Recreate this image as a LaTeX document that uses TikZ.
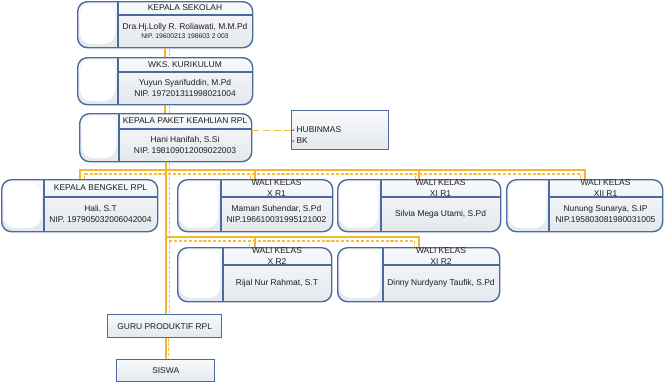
\documentclass[tikz,border=0pt]{standalone}
\usepackage{fontspec}
\setmainfont{Liberation Sans}
\usepackage{tikz}
\usetikzlibrary{positioning,calc}
\definecolor{orgblue}{HTML}{4A6C9C}
\definecolor{orgline}{HTML}{F6B52C}
\definecolor{orgdash}{HTML}{F7BE45}
\definecolor{orgtext}{HTML}{1E1E1E}
\definecolor{orgtop}{HTML}{F8F9FB}
\definecolor{orgbot}{HTML}{E4E8EC}
\tikzset{
	card/.style={draw=orgblue, line width=1pt, rounded corners=7pt, top color=orgtop, bottom color=orgbot, inner sep=0pt},
	plainbox/.style={draw=orgblue, line width=1pt, top color=orgtop, bottom color=orgbot, inner sep=0pt},
	cardline/.style={draw=orgblue, line width=0.8pt},
	headtext/.style={font=\fontsize{6}{7.8}\selectfont, text=orgtext, align=center, inner sep=0pt},
	bodytext/.style={font=\fontsize{6}{7.8}\selectfont, text=orgtext, align=center, inner sep=0pt},
	link/.style={draw=orgline, line width=1.4pt},
	linkdash/.style={draw=orgdash, line width=0.8pt, dash pattern=on 2.2pt off 1.3pt},
	hubdash/.style={draw=orgdash, line width=1pt, dash pattern=on 5pt off 2.5pt}
}
% name, left, top, right, bottom, divider x, divider y, title, body
\newcommand{\orgcard}[9]{
	\node[card, anchor=north west, minimum width={(#4-#2)*0.025cm}, minimum height={(#5-#3)*0.025cm}] (#1) at (#2,#3) {};
	\fill[white, rounded corners=8pt] ({#2+3},{#3+3}) rectangle ({#6-3},{#5-3});
	\draw[cardline] (#6,#3) -- (#6,#5) (#6,#7) -- (#4,#7);
	\node[headtext] (#1-head) at ({(#6+#4)/2},{(#3+#7)/2}) {#8};
	\node[bodytext] (#1-body) at ({(#6+#4)/2},{(#7+#5)/2}) {#9};
}
\begin{document}
\begin{tikzpicture}[x=0.025cm, y=-0.025cm]
	\useasboundingbox (0,0) rectangle (664,382);
	\fill[white] (0,0) rectangle (664,382);

	\orgcard{ks}{77}{1}{252}{47}{118}{15}{KEPALA SEKOLAH}{Dra.Hj.Lolly R. Roliawati, M.M.Pd\\[-1pt]{\fontsize{4.8}{6}\selectfont NIP. 19600213 198603 2 003}}
	\orgcard{wk}{77}{57}{252}{104}{118}{72}{WKS. KURIKULUM}{Yuyun Syarifuddin, M.Pd\\NIP. 197201311998021004}
	\orgcard{kp}{79}{113}{251}{161}{119}{129}{KEPALA PAKET KEAHLIAN RPL}{Hani Hanifah, S.Si\\NIP. 198109012009022003}

	\node[plainbox, anchor=north west, minimum width=97*0.025cm, minimum height=39*0.025cm] (hub) at (291,110) {};
	\node[bodytext, anchor=west, align=left] (hub-list) at (292,135) {{\fontsize{4}{5}\selectfont\textbullet} HUBINMAS\\{\fontsize{4}{5}\selectfont\textbullet} BK};

	\orgcard{kb}{1}{179}{157}{231}{44}{197}{KEPALA BENGKEL RPL}{Hali, S.T\\NIP. 197905032006042004}
	\orgcard{xa}{177}{179}{332}{231}{221}{197}{WALI KELAS\\X R1}{Maman Suhendar, S.Pd\\NIP.196610031995121002}
	\orgcard{xia}{337}{179}{500}{231}{381}{197}{WALI KELAS\\XI R1}{Silvia Mega Utami, S.Pd}
	\orgcard{xiia}{506}{179}{662}{231}{549}{197}{WALI KELAS\\XII R1}{Nunung Sunarya, S.IP\\NIP.195803081980031005}

	\orgcard{xb}{177}{247}{331}{301}{223}{265}{WALI KELAS\\X R2}{Rijal Nur Rahmat, S.T}
	\orgcard{xib}{337}{247}{499}{301}{383}{265}{WALI KELAS\\XI R2}{Dinny Nurdyany Taufik, S.Pd}

	\node[plainbox, anchor=north west, minimum width=114*0.025cm, minimum height=23*0.025cm, font=\fontsize{6}{7.8}\selectfont, text=orgtext] (guru) at (107,314) {GURU PRODUKTIF RPL};
	\node[plainbox, anchor=north west, minimum width=98*0.025cm, minimum height=22*0.025cm, font=\fontsize{6}{7.8}\selectfont, text=orgtext] (siswa) at (116,359) {SISWA};

	\coordinate (busa) at (165,170);
	\coordinate (busb) at (165,237);
	\coordinate (dbusa) at (169,174);
	\coordinate (dbusb) at (169,241);

	\draw[linkdash] ([xshift=0.1cm]ks.south) -- ([xshift=0.1cm]ks.south |- wk.north);
	\draw[linkdash] ([xshift=0.1cm]wk.south) -- ([xshift=0.1cm]wk.south |- kp.north);
	\draw[linkdash] ([xshift=0.1cm]kp.south) -- ([xshift=0.1cm]kp.south |- guru.north);
	\draw[linkdash] ([xshift=0.1cm]guru.south) -- ([xshift=0.1cm]guru.south |- siswa.north);
	\draw[linkdash] ([xshift=0.125cm]kb.north) |- (dbusa) -| ([xshift=-0.1cm]xiia.north);
	\draw[linkdash] ([xshift=-0.125cm]xa.north) -- ([xshift=-0.125cm]xa.north |- dbusa);
	\draw[linkdash] ([xshift=-0.09cm]xia.north) -- ([xshift=-0.09cm]xia.north |- dbusa);
	\draw[linkdash] (dbusb) -| ([xshift=-0.1cm]xib.north);
	\draw[linkdash] ([xshift=-0.125cm]xb.north) -- ([xshift=-0.125cm]xb.north |- dbusb);

	\draw[link] (ks.south) -- (ks.south |- wk.north);
	\draw[link] (wk.south) -- (wk.south |- kp.north);
	\draw[link] (kp.south) -- (kp.south |- guru.north);
	\draw[link] (guru.south -| siswa.north) -- (siswa.north);
	\draw[link] (kb.north) |- (busa) -| (xiia.north);
	\foreach \wali in {xa,xia}
		\draw[link] (\wali.north) -- (\wali.north |- busa);
	\draw[link] (busb) -| (xib.north);
	\draw[link] (xb.north) -- (xb.north |- busb);

	\draw[hubdash] (kp.east |- hub.west) -- (hub.west);
\end{tikzpicture}
\end{document}
